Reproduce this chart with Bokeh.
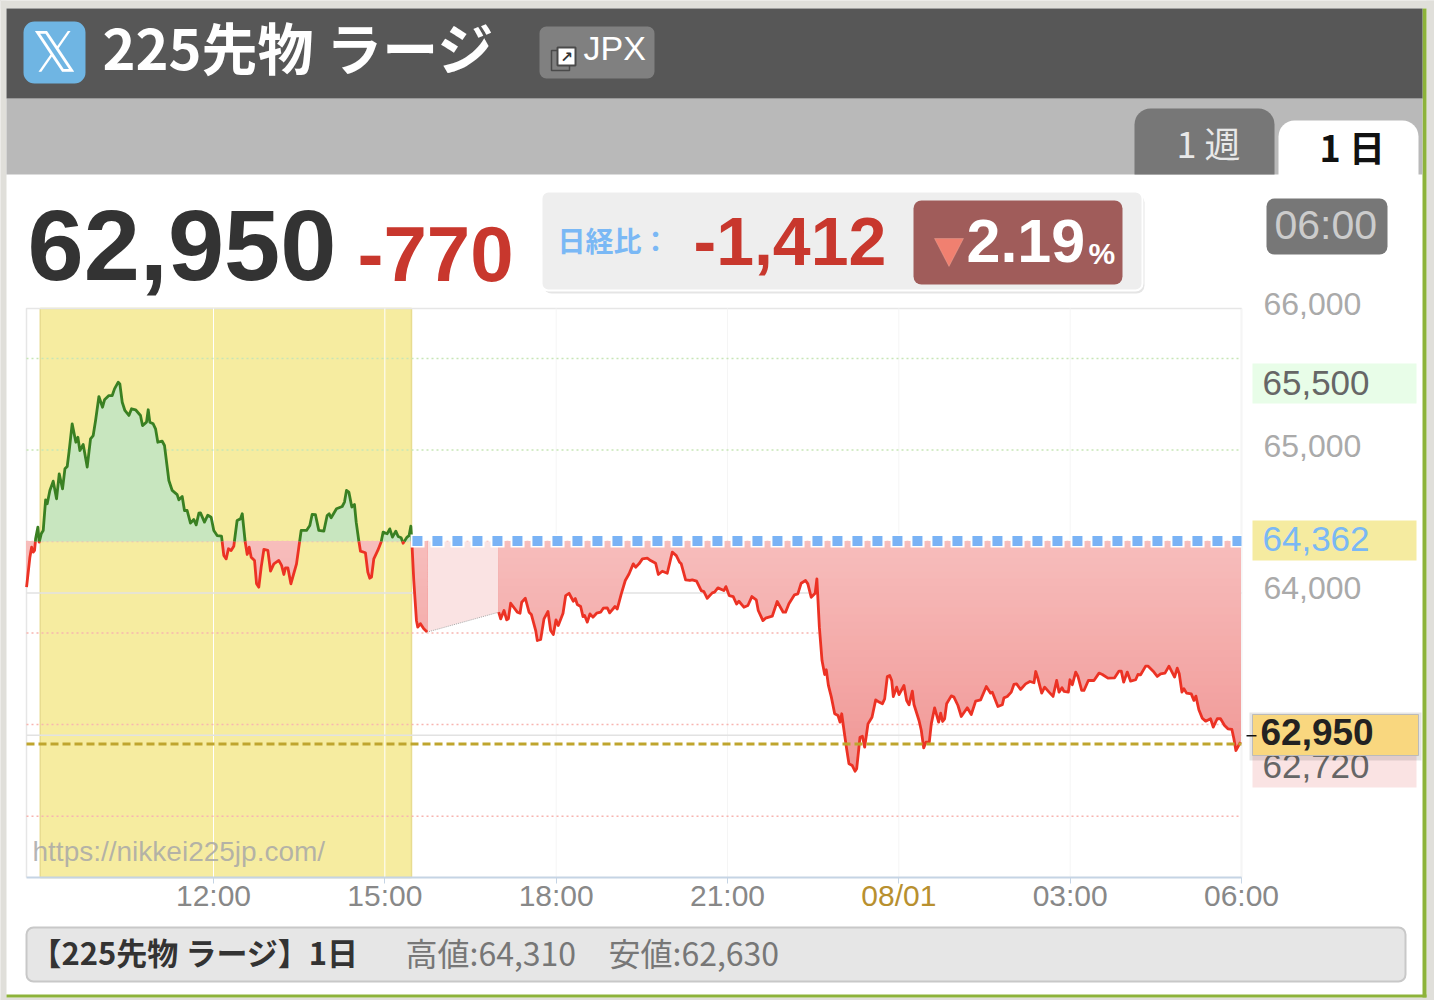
import numpy as np
from bokeh.plotting import figure
from bokeh.embed import file_html
from bokeh.resources import INLINE
from bokeh.models import (BoxAnnotation, Label, FixedTicker, Range1d, PolyAnnotation, LinearAxis)

# ---------- data ----------
day_time = [0,3.5,5.3,7,8.4,9.5,11.9,13.3,15.4,17.5,20,21.7,24.5,28,31.5,34.3,37.8,40.3,42.7,44.8,47.9,51.8,53.9,56,59.5,63.7,67.2,70,72.5,76,79.8,81.9,86.5,90,92.4,96.3,98,100.5,103.3,107.5,110.3,114.5,119.7,121.8,126,127.8,129.5,133,135.5,137.9,142.5,144.9,149.5,153,158.2,160,163.5,165.9,168.7,172.2,175.7,178.2,181,182.7,186.9,190.4,193.9,196.7,200.2,204.8,207.2,209.7,212.1,214.9,217.7,221.2,224.7,226.6,229.7,231.8,233.9,236,239.5,241.6,244,246.5,249.3,253.5,256.3,259.8,265,267.9,270.3,272,274.5,277.7,283.6,288.5,294.1,297.6,300,303.5,307,312.3,315.8,317.9,320,325.6,331.6,334,336.1,338.6,341.7,344.5,346.3,349,350.8,356,358.5,360.6,362.4,364.8,369,372.5,374.6,378.8,381.6,384.4,387.9,390.4,393.5,395.6,399.8,401.9,403.7,404.7,406.8,409.6,411,413.8,417.3,420.8]
day_price = [64041,64252,64322,64287,64299,64381,64463,64357,64416,64439,64655,64627,64721,64786,64662,64838,64732,64873,64889,65002,65189,65060,65095,65002,65044,64885,65084,65107,65213,65381,65306,65358,65388,65388,65435,65482,65470,65341,65283,65248,65295,65288,65248,65177,65201,65288,65201,65189,65154,65060,65067,65037,64791,64721,64692,64655,64678,64580,64580,64491,64517,64479,64561,64563,64498,64547,64533,64439,64404,64400,64264,64240,64311,64299,64329,64510,64521,64557,64358,64271,64322,64252,64229,64065,64041,64182,64306,64299,64154,64205,64229,64194,64130,64177,64177,64065,64205,64440,64440,64475,64552,64550,64440,64435,64545,64557,64529,64592,64608,64639,64721,64709,64604,64622,64498,64369,64294,64283,64147,64104,64112,64240,64299,64358,64428,64416,64451,64393,64435,64397,64388,64350,64393,64404,64470,64369,64088,63807,63760,63784,63748,63725]

night_time = [496,498.1,501.6,504.4,506.2,508.6,515.6,518.4,520.2,524,527.9,530.3,534.9,536.6,540.1,543.6,547.8,550.6,553.4,556.2,558.6,563.6,566.4,569.9,574.4,576.5,578.6,582.1,584.6,586.3,589.1,591.9,595,598.9,603.1,605.9,610.1,612.6,618.2,620.6,624.8,629,632.9,637.4,639.9,643.4,647,652.1,655.6,660.9,663.7,667.9,673.1,678.4,682.6,686.1,687.8,692.4,696.9,699.4,703.9,708.8,711.6,715.1,720.4,722.8,726.3,732.6,734.7,738.2,742.4,745.9,748.4,753.6,757.8,762,766.6,768.7,773.6,776.4,783.4,788.6,794.9,797.4,800.9,806.8,810.3,813.8,818.4,820.8,824.3,828.5,830.3,832.9,835.7,838.5,840.2,842.4,845.5,849,852.5,854.6,856.4,858.8,861.3,864,867.5,870.4,872.1,875.6,878.1,880.5,884,888.2,892.1,895.6,899.1,901.5,904.3,906.8,908.9,910.6,914.1,916.6,921.8,924.6,927.1,930.6,932.3,937.6,940,942.5,944.9,948.4,950.5,954,958.2,960.3,962.4,964.5,966.6,971.5,974.3,978.5,982,988.3,992.5,997.1,1002.3,1008.3,1012.8,1014.6,1020.5,1025.1,1026.8,1030.3,1034.5,1037.3,1040.1,1044.3,1049.6,1054.1,1058.4,1060.2,1062.6,1066.5,1069.6,1074.2,1078.4,1082.2,1084.7,1087.8,1089.9,1094.5,1096.2,1098.7,1102.2,1104.6,1108.5,1110.9,1115.5,1121.4,1126.7,1130.2,1136.1,1143.1,1147.7,1150.1,1152.6,1156.4,1159.9,1165.2,1167.6,1170.4,1175.7,1178.1,1184.4,1187.9,1191.4,1196,1200.2,1206.1,1208.9,1211,1213.8,1215.9,1218.7,1223.6,1226.4,1228.5,1231.6,1235.2,1238.7,1243.9,1246.7,1250.9,1254.4,1258.6,1262.1,1266.3,1268.4,1270.5,1275.4]
night_price = [63865,63818,63877,63811,63818,63928,63865,63858,63935,63963,63865,63849,63736,63666,63673,63818,63870,63736,63708,63811,63771,63858,63982,63998,63942,63961,63919,63905,63834,63842,63795,63853,63830,63858,63865,63893,63895,63860,63905,63888,63994,64088,64134,64205,64181,64205,64240,64245,64228,64209,64130,64153,64139,64287,64263,64216,64205,64092,64088,64092,64083,64017,64010,63963,64001,64006,64036,64017,64045,63982,63975,63923,63942,63900,63912,63975,63952,63877,63806,63823,63837,63940,63865,63865,63924,63987,63994,64069,64088,64064,63970,63998,64099,63760,63525,63427,63460,63350,63268,63151,63139,63092,63151,63033,62916,62799,62787,62747,62764,62986,62993,62916,63080,63127,63249,63233,63221,63256,63413,63420,63385,63272,63338,63286,63350,63244,63214,63310,63216,63104,63033,62911,62951,62951,63080,63193,63092,63155,63097,63115,63221,63277,63268,63209,63132,63193,63146,63240,63249,63343,63296,63303,63202,63214,63263,63272,63303,63357,63361,63322,63361,63378,63369,63448,63397,63296,63338,63303,63273,63385,63303,63334,63308,63303,63390,63355,63444,63413,63315,63315,63385,63385,63437,63427,63402,63404,63451,63451,63373,63444,63380,63390,63427,63425,63486,63486,63444,63413,63432,63437,63486,63409,63472,63432,63303,63327,63296,63291,63245,63275,63179,63120,63099,63116,63057,63116,63116,63069,63045,63041,62975,62893,62952]

BASE_PRICE = 64362
LAST_LINE = 62938
pct_green = [65649, 65006]
pct_red = [63718, 63075, 62431]
solid_levels = [64000, 63000]
tick_minutes = [195, 375, 555, 735, 1095, 1275]
tick_labels = ["12:00", "15:00", "18:00", "21:00", "03:00", "06:00"]
date_tick = 915
price_ticks = [66000, 65000, 64000]
session_minutes = (13, 403)
READ_SHIFT = 1.4
T0, T1 = -1.47, 1275
P0, P1 = 62000, 66000

BG = "#e0dfda"
JP = "Noto Sans CJK JP"
LS = "Liberation Sans"
RED = "#ec3224"
GREEN = "#3a8022"

W, H = 1434, 1000
L, T, R, B = 26, 308, 1241, 877   # plot area, page pixels
tpp = (T1 - T0) / (R - L)
ppp = (P1 - P0) / (B - T)
p = figure(width=W, height=H, output_backend="svg", toolbar_location=None,
           x_range=Range1d(0, W), y_range=Range1d(H, 0),
           min_border=0, x_axis_location=None, y_axis_location=None,
           border_fill_color="white", background_fill_color="white", outline_line_color=None)
p.grid.visible = False
p.extra_x_ranges["t"] = Range1d(T0 - L * tpp, T1 + (W - R) * tpp)
p.extra_y_ranges["price"] = Range1d(P0 - (H - B) * ppp, P1 + T * ppp)
LABEL_SHIFT = 32
p.extra_y_ranges["price_labels"] = Range1d(P0 - (H - B) * ppp - LABEL_SHIFT, P1 + T * ppp - LABEL_SHIFT)
S = dict(x_range_name="t", y_range_name="price")


def sx(x): return x
def sy(y): return H - y


def box(x0, y0, x1, y1, fill, line=None, lw=1, radius=0, alpha=1.0):
    b = BoxAnnotation(left=sx(x0), right=sx(x1), top=sy(y0), bottom=sy(y1),
                      left_units="screen", right_units="screen", top_units="screen", bottom_units="screen",
                      fill_color=fill, fill_alpha=alpha, line_color=line, line_width=lw,
                      line_alpha=1.0 if line else 0.0, border_radius=radius, level="overlay")
    p.add_layout(b)
    return b


def txt(x, y, s, size, color, font=LS, style="normal", align="left", alpha=1.0):
    # the drawn baseline sits below the requested one by a share of the font size
    drop = 0.45 if font == JP else 0.38
    p.add_layout(Label(x=sx(x), y=sy(y - drop * size), x_units="screen", y_units="screen", text=s,
                       text_font=font, text_font_size=f"{size}px", text_font_style=style,
                       text_color=color, text_align=align, text_baseline="alphabetic", text_alpha=alpha,
                       level="overlay"))


# page furniture around the white card
box(0, 0, W, 8, BG)
box(0, 0, 6, H, BG)
box(1426, 0, W, H, BG)
box(0, 997, W, H, BG)
box(1422, 8, 1426, 997, "#8db33a")
box(6, 994, 1426, 997, "#8db33a")
box(6, 98, 1422, 174, "#b9b9b9")
box(6, 8, 1422, 98, "#575757")

# plot frame and session band
p.quad(left=[session_minutes[0]], right=[session_minutes[1]], top=[P1], bottom=[P0],
       fill_color="#f6eca0", line_color="#e8dc90", line_width=1.5, **S)
p.line([T0, T0, T1, T1], [P0, P1, P1, P0], line_color="#e6e6e6", line_width=1.5, **S)

for t in tick_minutes + [date_tick]:
    inside = session_minutes[0] < t < session_minutes[1]
    p.segment([t], [P0], [t], [P1], line_color="#ffffff" if inside else "#f5f5f5", line_width=1, **S)
for lev in solid_levels:
    p.line([T0, T1], [lev, lev], line_color="#e2e2e2", line_width=1.5, **S)
for lev in pct_green:
    p.line([T0, T1], [lev, lev], line_color="#c6e6b6", line_width=1.5, line_dash="2 3", **S)
for lev in pct_red:
    p.line([T0, T1], [lev, lev], line_color="#f8b4b0", line_width=1.5, line_dash="2 3", **S)
p.line([T0, T1], [BASE_PRICE, BASE_PRICE], line_color="#f8b4b0", line_width=1.5, line_dash="2 3", **S)

dt = np.array(day_time) - READ_SHIFT
dt = np.clip(dt, T0, T1)
dp = np.array(day_price, float)
nt = np.array(night_time) - READ_SHIFT
np_ = np.array(night_price, float)

# grid on which fills are clipped (rendering only)
def dense(t, v):
    g = np.union1d(t, np.arange(t[0], t[-1], 1.0))
    return g, np.interp(g, t, v)

dgx, dgy = dense(dt, dp)
ngx, ngy = dense(nt, np_)

# gap between the sessions
p.varea([dt[-1], nt[0]], [dp[-1], np_[0]], [BASE_PRICE, BASE_PRICE], fill_color="#fae3e3", **S)
p.line([dt[-1], nt[0]], [dp[-1], np_[0]], line_color="#aaaaaa", line_width=1, line_dash="1 1", **S)

# gradient red fill, painted from the deepest band upward
top_c = np.array([247, 190, 189])
bot_c = np.array([240, 150, 148])
levels = np.arange(62700, BASE_PRICE, 50)
for lev in levels:
    f = (BASE_PRICE - lev) / (BASE_PRICE - 62700)
    c = top_c + (bot_c - top_c) * f
    col = "#%02x%02x%02x" % tuple(int(round(v)) for v in c)
    for gx, gy in ((dgx, dgy), (ngx, ngy)):
        low = np.clip(gy, lev, BASE_PRICE)
        p.varea(gx, low, np.full_like(gx, BASE_PRICE), fill_color=col, **S)

p.varea(dgx, np.full_like(dgx, BASE_PRICE), np.maximum(dgy, BASE_PRICE), fill_color="#c8e6bf", **S)

# price line, coloured on either side of the base price
def split(t, v):
    xs, ys, cs = [], [], []
    cx, cy = [t[0]], [v[0]]
    up = v[0] >= BASE_PRICE
    for i in range(1, len(t)):
        now = v[i] >= BASE_PRICE
        if now != up:
            k = (BASE_PRICE - v[i-1]) / (v[i] - v[i-1])
            xc = t[i-1] + k * (t[i] - t[i-1])
            cx.append(xc); cy.append(BASE_PRICE)
            xs.append(cx); ys.append(cy); cs.append(GREEN if up else RED)
            cx, cy = [xc], [BASE_PRICE]
            up = now
        cx.append(t[i]); cy.append(v[i])
    xs.append(cx); ys.append(cy); cs.append(GREEN if up else RED)
    return xs, ys, cs

for t, v in ((dt, dp), (nt, np_)):
    xs, ys, cs = split(t, v)
    p.multi_line(xs, ys, line_color=cs, line_width=2.8, line_join="round", **S)

# previous-close squares and last-price dashes
p.line([402, T1], [BASE_PRICE + 3, BASE_PRICE + 3], line_color="white", line_width=13, line_dash="14 6", **S)
p.line([404, T1], [BASE_PRICE + 3, BASE_PRICE + 3], line_color="#7ab3f5", line_width=10, line_dash="10 10", **S)
p.line([T0, T1], [LAST_LINE, LAST_LINE], line_color="#bfa52e", line_width=3, line_dash="8 4", **S)


# axes pinned at the plot-area edges
def xaxis(ticks, overrides, color, axis_line):
    a = LinearAxis(x_range_name="t", fixed_location=B, bounds=(T0, T1), ticker=FixedTicker(ticks=ticks),
                   major_label_overrides=overrides)
    a.minor_tick_line_color = None
    a.axis_line_color = axis_line
    a.axis_line_width = 2
    a.major_tick_line_color = "#c5d4e4"
    a.major_tick_in = 0
    a.major_tick_out = 6
    a.major_label_standoff = -5
    a.major_label_text_font = LS
    a.major_label_text_font_size = "30px"
    a.major_label_text_color = color
    p.add_layout(a, "below")


xaxis(tick_minutes, dict(zip(tick_minutes, tick_labels)), "#888888", "#c5d4e4")
xaxis([date_tick], {date_tick: "08/01"}, "#b8902f", None)

yax = LinearAxis(y_range_name="price_labels", fixed_location=R, ticker=FixedTicker(ticks=price_ticks),
                 major_label_overrides={v: f"{v:,}" for v in price_ticks})
yax.axis_line_color = None
yax.major_tick_line_color = None
yax.minor_tick_line_color = None
yax.major_tick_out = 0
yax.major_tick_in = 0
yax.major_label_standoff = 22
yax.major_label_text_font = LS
yax.major_label_text_font_size = "32px"
yax.major_label_text_color = "#aaaaaa"
p.add_layout(yax, "right")

# watermark
txt(32, 862, "https://nikkei225jp.com/", 28, "#a8a8a8", alpha=0.85)

# header
box(23, 21, 85, 83, "#6fb5e3", radius=11)
txt(54, 72, "\U0001D54F", 56, "white", font="DejaVu Sans", align="center")
txt(102, 70, "225先物 ラージ", 56, "white", font=JP, style="bold")
box(539, 26, 654, 78, "#808080", radius=7)
box(551, 50, 569, 70, "#808080", line="#4a4a4a", lw=1.5)
box(557, 47, 575, 65, "white", line="#4a4a4a", lw=2)
txt(566, 62, "↗", 15, "#333333", font="DejaVu Sans", style="bold", align="center")
txt(583, 60, "JPX", 34, "white")

# tabs
box(1134, 108, 1274, 174, "#777777", radius=(16, 16, 0, 0))
box(1278, 120, 1418, 178, "white", radius=(16, 16, 0, 0))
txt(1176, 158, "1 週", 36, "#e8e8e8", font=JP)
txt(1319, 162, "1 日", 36, "#111111", font=JP, style="bold")

# quote row
txt(27, 283, "62,950", 101, "#333333", style="bold")
txt(357, 283, "-770", 78, "#c8372d", style="bold")
box(543, 194, 1144, 293, "#000000", radius=8, alpha=0.10)
box(541, 191, 1142, 290, "#eeeeee", line="white", lw=2, radius=7)
txt(557, 252, "日経比：", 28, "#7ab8f5", font=JP, style="bold")
txt(693, 267, "-1,412", 68, "#c8372d", style="bold")
box(913, 200, 1122, 284, "#a05c5a", radius=8)
p.add_layout(PolyAnnotation(xs=[sx(934), sx(963), sx(948.5)], ys=[sy(238), sy(238), sy(266)],
                            xs_units="screen", ys_units="screen", fill_color="#f08070", fill_alpha=1,
                            line_color="#f8c0b0", line_width=1, level="overlay"))
txt(966, 264, "2.19", 61, "white", style="bold")
txt(1088, 264, "%", 30, "white", style="bold")
box(1266, 198, 1387, 254, "#777777", radius=8)
txt(1274, 240, "06:00", 41, "#cccccc")

# right-hand price chips
box(1252, 363, 1416, 403, "#e8fde8")
txt(1262, 396, "65,500", 35, "#666666")
box(1252, 520, 1416, 560, "#f5eba0")
txt(1262, 552, "64,362", 35, "#7ab8f5")
box(1252, 747, 1416, 787, "#fae3e3")
txt(1262, 779, "62,720", 35, "#666666")
box(1249, 712, 1421, 760, "#000000", alpha=0.10)
box(1252, 714, 1418, 755, "#f9d77f", line="#bbbbbb", lw=1)
box(1246, 734.5, 1256, 736, "#111111")
txt(1260, 746, "62,950", 37, "#222222", style="bold")

# footer
box(26, 927, 1405, 981, "#e6e6e6", line="#c8c8c8", lw=2, radius=7)
txt(30, 965, "【225先物 ラージ】1日", 31, "#333333", font=JP, style="bold")
txt(405, 966, "高値:64,310", 32, "#777777", font=JP)
txt(608, 966, "安値:62,630", 32, "#777777", font=JP)

html = file_html(p, INLINE)
html = html.replace("<body>", f'<body style="margin:0;background:{BG}">')
open("out.html", "w").write(html)
